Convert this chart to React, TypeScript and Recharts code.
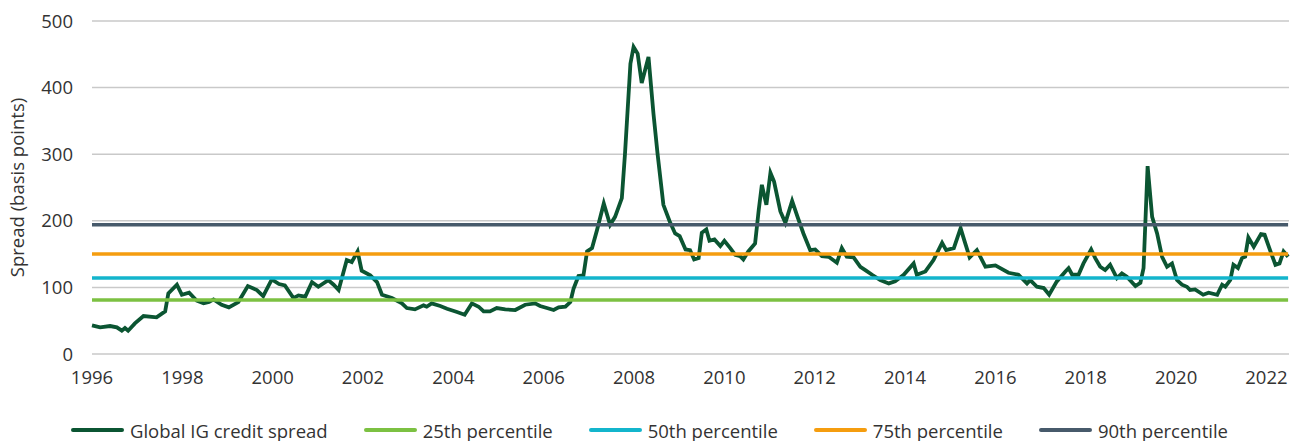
import React from 'react';
import { LineChart, Line, XAxis, YAxis, CartesianGrid, Legend } from 'recharts';

// month positions as fractional years
const dates = [
  1996.0, 1996.18, 1996.4, 1996.55, 1996.66, 1996.73, 1996.8, 1996.95, 1997.14, 1997.43,
  1997.62, 1997.69, 1997.88, 1997.99, 1998.15, 1998.32, 1998.47, 1998.59, 1998.69, 1998.87,
  1999.03, 1999.24, 1999.45, 1999.65, 1999.79, 1999.98, 2000.14, 2000.27, 2000.46, 2000.57,
  2000.72, 2000.87, 2001.01, 2001.23, 2001.35, 2001.46, 2001.64, 2001.75, 2001.88, 2001.97,
  2002.16, 2002.31, 2002.42, 2002.64, 2002.86, 2002.97, 2003.15, 2003.34, 2003.41, 2003.52,
  2003.71, 2003.86, 2004.08, 2004.25, 2004.41, 2004.56, 2004.67, 2004.81, 2004.96, 2005.15,
  2005.37, 2005.59, 2005.81, 2005.92, 2006.07, 2006.22, 2006.33, 2006.48, 2006.59, 2006.66,
  2006.77, 2006.88, 2006.96, 2007.07, 2007.18, 2007.33, 2007.47, 2007.58, 2007.73, 2007.8,
  2007.92, 2007.99, 2008.08, 2008.17, 2008.32, 2008.43, 2008.52, 2008.65, 2008.79, 2008.91,
  2009.01, 2009.14, 2009.24, 2009.33, 2009.43, 2009.5, 2009.6, 2009.67, 2009.78, 2009.91,
  2010.0, 2010.13, 2010.24, 2010.35, 2010.42, 2010.53, 2010.68, 2010.76, 2010.83, 2010.93,
  2011.02, 2011.1, 2011.24, 2011.35, 2011.5, 2011.62, 2011.75, 2011.9, 2012.01, 2012.16,
  2012.31, 2012.49, 2012.6, 2012.71, 2012.86, 2013.01, 2013.12, 2013.27, 2013.45, 2013.64,
  2013.78, 2013.97, 2014.19, 2014.26, 2014.45, 2014.63, 2014.82, 2014.91, 2015.08, 2015.23,
  2015.31, 2015.43, 2015.59, 2015.78, 2016.0, 2016.29, 2016.51, 2016.7, 2016.77, 2016.92,
  2017.07, 2017.19, 2017.36, 2017.55, 2017.62, 2017.7, 2017.84, 2017.95, 2018.12, 2018.21,
  2018.32, 2018.43, 2018.54, 2018.69, 2018.8, 2018.91, 2019.1, 2019.21, 2019.28, 2019.37,
  2019.47, 2019.58, 2019.69, 2019.8, 2019.91, 2020.02, 2020.13, 2020.24, 2020.31, 2020.42,
  2020.6, 2020.72, 2020.91, 2021.02, 2021.09, 2021.2, 2021.27, 2021.37, 2021.46, 2021.53,
  2021.6, 2021.72, 2021.88, 2021.96, 2022.09, 2022.2, 2022.29, 2022.38, 2022.48,
];

const igSpread = [
  43, 40, 42, 40, 35, 39, 35, 46, 57, 55,
  64, 91, 104, 89, 92, 80, 76, 78, 82, 74,
  70, 78, 102, 96, 87, 112, 105, 103, 84, 88,
  86, 108, 101, 111, 104, 96, 141, 138, 154, 125,
  118, 108, 89, 84, 76, 69, 67, 73, 71, 76,
  72, 68, 63, 59, 76, 71, 64, 64, 69, 67,
  66, 74, 76, 72, 69, 66, 70, 71, 78, 98,
  117, 118, 154, 159, 186, 226, 194, 206, 234, 301,
  436, 461, 451, 407, 446, 361, 301, 224, 199, 181,
  177, 157, 156, 142, 144, 182, 187, 170, 172, 162,
  170, 159, 149, 147, 142, 154, 166, 216, 254, 224,
  272, 259, 214, 197, 230, 206, 181, 156, 157, 147,
  146, 137, 159, 146, 145, 131, 126, 119, 111, 106,
  109, 119, 136, 119, 124, 141, 167, 156, 159, 189,
  171, 145, 156, 131, 133, 122, 119, 106, 111, 101,
  99, 89, 109, 124, 129, 119, 119, 136, 157, 144,
  131, 126, 134, 114, 121, 116, 102, 107, 129, 282,
  206, 181, 146, 131, 136, 111, 104, 101, 96, 97,
  89, 92, 89, 104, 101, 111, 134, 129, 144, 146,
  175, 161, 180, 179, 154, 134, 136, 154, 146,
];

const spreadName = 'Global IG credit spread';
const percentileKeys = ['p25', 'p50', 'p75', 'p90'];
const percentileNames = ['25th percentile', '50th percentile', '75th percentile', '90th percentile'];
const percentileValues = [81, 114, 150, 194];
const percentileColors = ['#7cc142', '#13b5cc', '#f59d0f', '#475a6b'];

const yearTicks = [1996, 1998, 2000, 2002, 2004, 2006, 2008, 2010, 2012, 2014, 2016, 2018, 2020, 2022];
const spreadTicks = [0, 100, 200, 300, 400, 500];

const legendOrder = [spreadName, ...percentileNames];

const data = dates.map((d, i) => {
  const row: Record<string, number> = { date: d, spread: igSpread[i] };
  percentileKeys.forEach((k, j) => { row[k] = percentileValues[j]; });
  return row;
});

const renderLegend = (props: any) => {
  const items = [...(props.payload || [])].sort(
    (a: any, b: any) => legendOrder.indexOf(a.value) - legendOrder.indexOf(b.value),
  );
  return (
    <div style={{ display: 'flex', justifyContent: 'center', height: 22, alignItems: 'center', gap: 36, paddingLeft: 10 }}>
      {items.map((it: any) => (
        <div key={it.value} style={{ display: 'flex', alignItems: 'center' }}>
          <span style={{ display: 'inline-block', width: 53, height: 4, borderRadius: 2, background: it.color, marginRight: 6 }} />
          <span style={{ fontSize: 18.5, color: '#333' }}>{it.value}</span>
        </div>
      ))}
    </div>
  );
};

export default function App() {
  return (
    <div style={{ position: 'absolute', left: 0, top: 0, fontFamily: '"Open Sans", sans-serif' }}>
      <LineChart width={1294} height={441} data={data} margin={{ top: 21, right: 5, left: 0, bottom: 0 }}>
        <CartesianGrid vertical={false} stroke="#c9c9c9" strokeWidth={1.5} />
        <XAxis
          dataKey="date"
          type="number"
          domain={[1996, 2022.5]}
          ticks={yearTicks}
          axisLine={false}
          tickLine={false}
          tickSize={0}
          tickMargin={17}
          height={65}
          tick={{ fill: '#333', fontSize: 18.5 }}
        />
        <YAxis
          domain={[0, 500]}
          ticks={spreadTicks}
          axisLine={false}
          tickLine={false}
          tickSize={0}
          tickMargin={19}
          width={92}
          tick={{ fill: '#333', fontSize: 18.5 }}
          label={{ value: 'Spread (basis points)', angle: -90, position: 'center', dx: -29, style: { fill: '#333', fontSize: 18.5 } }}
        />
        <Legend verticalAlign="bottom" content={renderLegend} />
        <Line type="linear" dataKey="spread" name={spreadName} stroke="#0b5532" strokeWidth={3.8} dot={false} isAnimationActive={false} />
        {percentileKeys.map((k, j) => (
          <Line key={k} type="linear" dataKey={k} name={percentileNames[j]} stroke={percentileColors[j]} strokeWidth={3.5} dot={false} isAnimationActive={false} />
        ))}
      </LineChart>
    </div>
  );
}
